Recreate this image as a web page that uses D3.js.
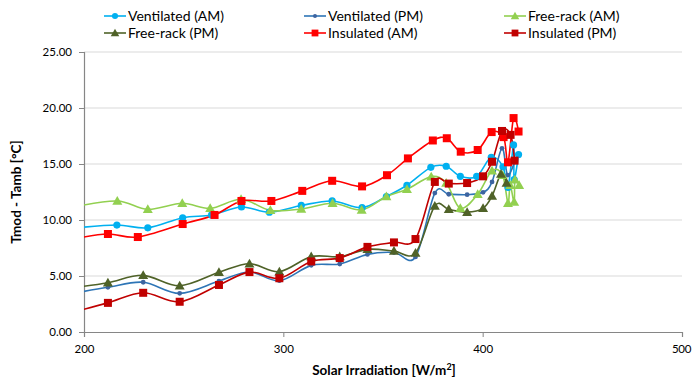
<!DOCTYPE html>
<html><head><meta charset="utf-8">
<script src="https://cdn.jsdelivr.net/npm/d3@7"></script>
<style>body{margin:0;background:#fff}svg{display:block}text{font-family:Lato,"Open Sans",sans-serif;fill:#000}</style>
</head><body><svg id="c" width="692" height="381"></svg>
<script>
// Data; points below 200 are clipped by the axis, as in the original
const ventAM_x = [196, 216.5, 232, 249.5, 264, 279, 293, 309, 324.5, 339.5, 351.7, 362, 374, 381.7, 388.8, 397, 404.3, 410.2, 412.7, 415.5, 415.8, 418];
const ventAM_y = [9.3, 9.55, 9.3, 10.2, 10.45, 11.16, 10.7, 11.3, 11.7, 11.1, 12.1, 13.1, 14.7, 14.8, 13.9, 13.9, 15.6, 14.75, 12.9, 16.7, 13.6, 15.85];
const ventPM_x = [196, 212, 229.7, 248, 267.7, 283, 298, 314, 328.3, 342.2, 355.5, 366.3, 376, 383, 392.2, 400.2, 404.7, 409.7, 412.5, 416];
const ventPM_y = [3.5, 3.99, 4.44, 3.45, 4.55, 5.36, 4.58, 5.95, 6.07, 6.93, 7.1, 6.7, 12.4, 12.3, 12.26, 12.47, 13.4, 16.4, 14.0, 15.2];
const freeAM_x = [196, 216.7, 232, 249.3, 263.3, 278.8, 293.5, 309, 324.7, 339.3, 351.7, 362, 374.2, 381.7, 388.8, 397.5, 404.7, 410, 412.7, 413.8, 415.8, 416.2, 418.3];
const freeAM_y = [11.2, 11.7, 10.95, 11.49, 11.04, 11.85, 10.86, 10.98, 11.5, 10.9, 12.1, 12.74, 13.87, 13.3, 11.04, 12.3, 14.4, 14.0, 11.5, 13.1, 11.6, 13.6, 13.1];
const freePM_x = [196, 212, 229.7, 248, 267.7, 283, 298, 314, 328.3, 342.2, 355.5, 366.3, 376, 383, 392.2, 400.2, 404.7, 409.2, 412];
const freePM_y = [4.0, 4.4, 5.06, 4.13, 5.33, 6.1, 5.39, 6.73, 6.73, 7.38, 7.23, 7.05, 11.25, 10.95, 10.7, 11.04, 12.14, 14.1, 13.3];
const insAM_x = [196, 212, 227, 249.5, 265.5, 279, 294, 309.5, 324.5, 339.5, 352, 362.5, 375, 382, 389, 397.5, 404.5, 410.5, 412.7, 415.5, 418];
const insAM_y = [8.35, 8.75, 8.48, 9.64, 10.45, 11.7, 11.7, 12.6, 13.5, 13.0, 14.0, 15.5, 17.1, 17.3, 16.1, 16.25, 17.85, 17.4, 15.15, 19.1, 17.9];
const insPM_x = [196, 212, 229.7, 248, 267.7, 283, 298, 314, 328.3, 342.2, 355.5, 366.3, 376, 383, 392.2, 400.2, 404.7, 409.7, 414, 416];
const insPM_y = [1.85, 2.6, 3.5, 2.7, 4.2, 5.35, 4.8, 6.3, 6.6, 7.6, 8.0, 8.3, 13.4, 13.25, 13.3, 13.9, 15.2, 17.95, 17.6, 15.3];

const seriesNames = ["Ventilated (AM)", "Ventilated (PM)", "Free-rack (AM)", "Free-rack (PM)", "Insulated (AM)", "Insulated (PM)"];
const xTicks = [200, 300, 400, 500];
const yTicks = [0, 5, 10, 15, 20, 25];

const series = [
  {name: seriesNames[0], xs: ventAM_x, ys: ventAM_y, line: "#00B0F0", fill: "#00B0F0", shape: "circle", size: 3.6},
  {name: seriesNames[1], xs: ventPM_x, ys: ventPM_y, line: "#2E75B6", fill: "#3D64A0", shape: "circle", size: 2.4},
  {name: seriesNames[2], xs: freeAM_x, ys: freeAM_y, line: "#92D050", fill: "#92D050", shape: "triangle", size: 5},
  {name: seriesNames[3], xs: freePM_x, ys: freePM_y, line: "#4F6228", fill: "#4F6228", shape: "triangle", size: 5},
  {name: seriesNames[4], xs: insAM_x, ys: insAM_y, line: "#FF0000", fill: "#FF0000", shape: "square", size: 4},
  {name: seriesNames[5], xs: insPM_x, ys: insPM_y, line: "#C00000", fill: "#C00000", shape: "square", size: 4}
];

const svg = d3.select("#c");
const L = 84, R = 682, T = 52, B = 332;
const x = d3.scaleLinear().domain([200, 500]).range([L, R]);
const y = d3.scaleLinear().domain([0, 25]).range([B, T]);

svg.append("defs").append("clipPath").attr("id", "clip")
  .append("rect").attr("x", L).attr("y", T - 6).attr("width", R - L + 6).attr("height", B - T + 6);

// gridlines
svg.append("g").selectAll("line").data(yTicks.filter(d => d > 0)).join("line")
  .attr("x1", L).attr("x2", R).attr("y1", d => y(d)).attr("y2", d => y(d))
  .attr("stroke", "#D9D9D9").attr("stroke-width", 1.2);

// axes
const yAxis = d3.axisLeft(y).tickValues(yTicks).tickFormat(d3.format(".2f")).tickSize(5).tickPadding(7);
const gy = svg.append("g").attr("transform", `translate(${L},0)`).call(yAxis);
const xAxis = d3.axisBottom(x).tickValues(xTicks).tickFormat(d3.format("d")).tickSize(5).tickPadding(8);
const gx = svg.append("g").attr("transform", `translate(0,${B})`).call(xAxis);
[gx, gy].forEach(g => {
  g.select(".domain").attr("stroke", "#868686").attr("stroke-width", 1.2);
  g.selectAll(".tick line").attr("stroke", "#868686");
  g.selectAll(".tick text").attr("font-size", 11.5).attr("font-family", "Lato").attr("fill", "#000");
});
gx.selectAll(".tick text").filter(d => d === 500).attr("dx", -1).attr("letter-spacing", -0.3);

// titles
svg.append("text").attr("x", 384).attr("y", 375).attr("text-anchor", "middle")
  .attr("font-size", 13.5).attr("font-weight", "bold")
  .html('Solar Irradiation [W/m<tspan dy="-5" font-size="9">2</tspan><tspan dy="5">]</tspan>');
svg.append("text").attr("transform", "translate(21,192) rotate(-90)").attr("text-anchor", "middle")
  .attr("font-size", 13.5).attr("font-weight", "bold").text("Tmod - Tamb [°C]");

function drawMarker(g, shape, size, fill) {
  if (shape === "circle") g.append("circle").attr("r", size).attr("fill", fill);
  else if (shape === "square") g.append("rect").attr("x", -size).attr("y", -size).attr("width", size * 2).attr("height", size * 2).attr("fill", fill);
  else g.append("path").attr("d", `M0,${-size}L${size},${size * 0.75}L${-size},${size * 0.75}Z`).attr("fill", fill);
}

const plot = svg.append("g").attr("clip-path", "url(#clip)");
const lineGen = d3.line().x(d => x(d[0])).y(d => y(d[1])).curve(d3.curveCatmullRom.alpha(0));
series.forEach(s => {
  const pts = s.xs.map((v, i) => [v, s.ys[i]]);
  plot.append("path").datum(pts).attr("d", lineGen).attr("fill", "none")
    .attr("stroke", s.line).attr("stroke-width", 1.6);
});
series.forEach(s => {
  const pts = s.xs.map((v, i) => [v, s.ys[i]]);
  pts.forEach(p => {
    const g = plot.append("g").attr("transform", `translate(${x(p[0])},${y(p[1])})`);
    drawMarker(g, s.shape, s.size, s.fill);
  });
});

// legend
const legCols = [104, 304, 504], legRows = [16, 33];
series.forEach((s, i) => {
  const lx = legCols[i % 3], ly = legRows[Math.floor(i / 3)];
  const g = svg.append("g").attr("transform", `translate(${lx},${ly})`);
  g.append("line").attr("x1", 0).attr("x2", 22).attr("stroke", s.line).attr("stroke-width", 1.6);
  const m = g.append("g").attr("transform", "translate(11,0)");
  drawMarker(m, s.shape, s.size * 0.85, s.fill);
  g.append("text").attr("x", 24).attr("y", 0).attr("dy", "0.35em").attr("font-size", 14).text(s.name);
});
</script></body></html>
